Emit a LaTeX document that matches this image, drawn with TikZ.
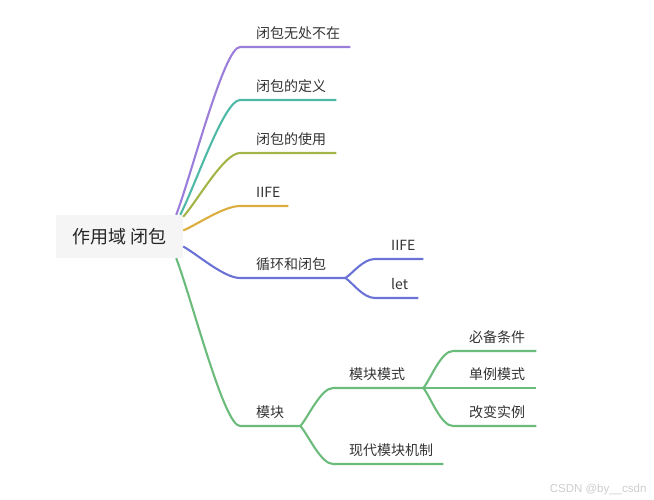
\documentclass[tikz,border=0pt]{standalone}
\usepackage{fontspec}
\setmainfont{Noto Sans CJK SC}
\newfontfamily\marksans{Liberation Sans}
\usetikzlibrary{calc}
\definecolor{rootgray}{HTML}{F5F5F5}
\definecolor{mmpurple}{HTML}{9B7ED9}
\definecolor{mmteal}{HTML}{4FB9A8}
\definecolor{mmolive}{HTML}{A3B547}
\definecolor{mmorange}{HTML}{DCAE3F}
\definecolor{mmblue}{HTML}{6A73D5}
\definecolor{mmgreen}{HTML}{6BBB7B}
\begin{document}
\begin{tikzpicture}[x=1pt,y=-1pt,
	rootb/.style={
	  fill=rootgray,
	  minimum width=127pt,
	  minimum height=43pt,
	  inner sep=0pt,
	  text=black!85,
	  font=\fontsize{18}{22}\selectfont
	},
	topicb/.style={
	  anchor=south west,
	  inner sep=0pt,
	  align=left,
	  text height=10pt,
	  text depth=8.5pt,
	  text=black!80,
	  font=\fontsize{14}{17}\selectfont,
	  execute at begin node={\hspace*{16pt}}
	},
	branch/.style={
	  line width=2.1pt,
	  to path={.. controls ($(\tikztostart)!.25!(\tikztotarget)$) and ([xshift=-#1]\tikztotarget) .. (\tikztotarget)}
	},
	branch/.default=16pt]

	\useasboundingbox (0,0) rectangle (654,500);

	\node[rootb] (Root) at (119.5,236.5) {作用域 闭包};

	\node[topicb,text width=110pt] (Everywhere) at (240,47) {闭包无处不在};
	\node[topicb,text width=96pt] (Define) at (240,100) {闭包的定义};
	\node[topicb,text width=96pt] (Use) at (240,153) {闭包的使用};
	\node[topicb,text width=48pt] (IIFE) at (240,206) {IIFE};
	\node[topicb,text width=105pt] (Loop) at (240,278) {循环和闭包};
	\node[topicb,text width=60pt] (Module) at (240,426) {模块};

	\node[topicb,text width=48pt] (LoopIIFE) at (375,259) {IIFE};
	\node[topicb,text width=43pt] (LoopLet) at (375,298) {let};

	\node[topicb,text width=90pt] (Pattern) at (333,388) {模块模式};
	\node[topicb,text width=110pt] (Modern) at (333,464) {现代模块机制};

	\node[topicb,text width=83pt] (Need) at (453,351) {必备条件};
	\node[topicb,text width=83pt] (Single) at (453,388) {单例模式};
	\node[topicb,text width=83pt] (Change) at (453,426) {改变实例};

	\node[anchor=east,text=black!20,font=\marksans\fontsize{11.5}{14}\selectfont] (Mark) at (650,490) {CSDN @by\_\_csdn};

	\draw[branch,mmpurple] ([xshift=-7pt]Root.north east) to (Everywhere.south west) -- (Everywhere.south east);
	\draw[branch,mmteal] ([xshift=-3pt]Root.north east) to (Define.south west) -- (Define.south east);
	\draw[branch,mmolive] ([yshift=-2pt]Root.north east) to (Use.south west) -- (Use.south east);
	\draw[branch,mmorange] ([yshift=6pt]Root.east) to (IIFE.south west) -- (IIFE.south east);
	\draw[branch,mmblue] ([yshift=-10pt]Root.east) to (Loop.south west) -- (Loop.south east);
	\draw[branch,mmgreen] ([xshift=-7pt]Root.south east) to (Module.south west) -- (Module.south east);

	\draw[branch=12pt,mmblue] (Loop.south east) to (LoopIIFE.south west) -- (LoopIIFE.south east);
	\draw[branch=12pt,mmblue] (Loop.south east) to (LoopLet.south west) -- (LoopLet.south east);

	\draw[branch=12pt,mmgreen] (Module.south east) to (Pattern.south west) -- (Pattern.south east);
	\draw[branch=12pt,mmgreen] (Module.south east) to (Modern.south west) -- (Modern.south east);

	\draw[branch=12pt,mmgreen] (Pattern.south east) to (Need.south west) -- (Need.south east);
	\draw[branch,mmgreen] (Pattern.south east) -- (Single.south west) -- (Single.south east);
	\draw[branch=12pt,mmgreen] (Pattern.south east) to (Change.south west) -- (Change.south east);
\end{tikzpicture}
\end{document}
